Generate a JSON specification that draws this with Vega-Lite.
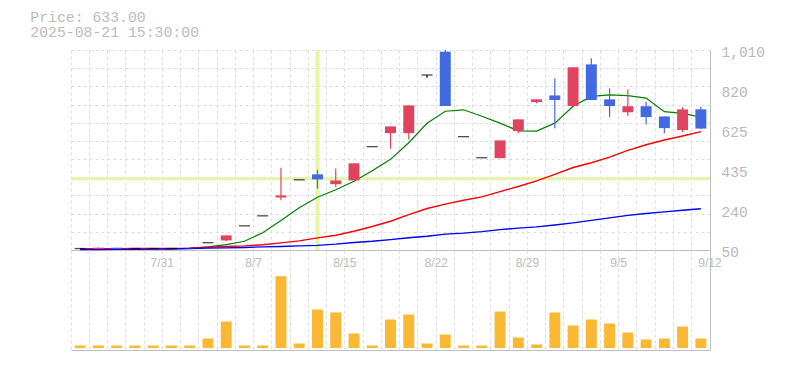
{
  "$schema": "https://vega.github.io/schema/vega-lite/v6.json",
  "background": "white",
  "padding": {"left": 30, "top": 10, "right": 5, "bottom": 5},
  "bounds": "flush",
  "spacing": 0,
  "config": {"view": {"stroke": null}},
  "title": {
    "text": ["Price: 633.00", "2025-08-21 15:30:00"],
    "anchor": "start",
    "frame": "group",
    "dx": -40.7,
    "offset": 4.5,
    "font": "Liberation Mono",
    "fontSize": 14.8,
    "fontWeight": "normal",
    "color": "#bbbbbb",
    "lineHeight": 15
  },
  "datasets": {
    "k": [
      {"d": "7/25", "o": 57, "h": 59, "l": 57, "c": 57, "ma5": 57, "ma25": 56, "ma75": 52, "v": 25000},
      {"d": "7/28", "o": 56, "h": 62, "l": 56, "c": 61, "ma5": 57, "ma25": 56, "ma75": 52, "v": 25000},
      {"d": "7/29", "o": 61, "h": 61, "l": 55, "c": 56, "ma5": 57, "ma25": 56.5, "ma75": 53, "v": 25000},
      {"d": "7/30", "o": 57, "h": 57, "l": 57, "c": 57, "ma5": 57, "ma25": 57, "ma75": 53, "v": 25000},
      {"d": "7/31", "o": 57, "h": 57, "l": 57, "c": 57, "ma5": 57, "ma25": 57.5, "ma75": 54, "v": 25000},
      {"d": "8/1", "o": 57, "h": 57, "l": 57, "c": 57, "ma5": 57, "ma25": 58, "ma75": 55, "v": 25000},
      {"d": "8/4", "o": 57, "h": 58, "l": 57, "c": 58, "ma5": 58, "ma25": 59, "ma75": 57, "v": 25000},
      {"d": "8/5", "o": 85, "h": 85, "l": 85, "c": 85, "ma5": 65, "ma25": 63, "ma75": 59, "v": 95000},
      {"d": "8/6", "o": 96, "h": 120, "l": 92, "c": 120, "ma5": 76, "ma25": 67, "ma75": 60, "v": 265000},
      {"d": "8/7", "o": 166, "h": 166, "l": 166, "c": 166, "ma5": 92, "ma25": 70, "ma75": 62, "v": 25000},
      {"d": "8/8", "o": 214, "h": 214, "l": 214, "c": 214, "ma5": 133, "ma25": 75, "ma75": 65, "v": 25000},
      {"d": "8/12", "o": 302, "h": 445, "l": 289, "c": 312, "ma5": 192, "ma25": 84, "ma75": 67, "v": 718000},
      {"d": "8/13", "o": 387, "h": 387, "l": 387, "c": 387, "ma5": 253, "ma25": 94, "ma75": 70, "v": 45000},
      {"d": "8/14", "o": 413, "h": 435, "l": 345, "c": 389, "ma5": 303, "ma25": 108, "ma75": 72, "v": 385000},
      {"d": "8/15", "o": 366, "h": 441, "l": 352, "c": 384, "ma5": 339, "ma25": 121, "ma75": 78, "v": 355000},
      {"d": "8/18", "o": 384, "h": 466, "l": 384, "c": 466, "ma5": 380, "ma25": 140, "ma75": 86, "v": 145000},
      {"d": "8/19", "o": 546, "h": 546, "l": 546, "c": 546, "ma5": 430, "ma25": 163, "ma75": 92, "v": 25000},
      {"d": "8/20", "o": 611, "h": 643, "l": 536, "c": 643, "ma5": 485, "ma25": 188, "ma75": 100, "v": 285000},
      {"d": "8/21", "o": 611, "h": 744, "l": 581, "c": 744, "ma5": 565, "ma25": 220, "ma75": 109, "v": 335000},
      {"d": "8/22", "o": 890, "h": 890, "l": 877, "c": 890, "ma5": 658, "ma25": 249, "ma75": 116, "v": 45000},
      {"d": "8/25", "o": 1002, "h": 1010, "l": 741, "c": 741, "ma5": 716, "ma25": 270, "ma75": 126, "v": 135000},
      {"d": "8/26", "o": 594, "h": 594, "l": 594, "c": 594, "ma5": 723, "ma25": 289, "ma75": 131, "v": 25000},
      {"d": "8/27", "o": 493, "h": 493, "l": 493, "c": 493, "ma5": 692, "ma25": 305, "ma75": 138, "v": 25000},
      {"d": "8/28", "o": 491, "h": 576, "l": 491, "c": 576, "ma5": 659, "ma25": 330, "ma75": 148, "v": 365000},
      {"d": "8/29", "o": 621, "h": 677, "l": 611, "c": 677, "ma5": 622, "ma25": 355, "ma75": 155, "v": 105000},
      {"d": "9/1", "o": 760, "h": 773, "l": 754, "c": 773, "ma5": 621, "ma25": 382, "ma75": 161, "v": 35000},
      {"d": "9/2", "o": 792, "h": 874, "l": 635, "c": 770, "ma5": 659, "ma25": 413, "ma75": 170, "v": 355000},
      {"d": "9/3", "o": 741, "h": 927, "l": 741, "c": 927, "ma5": 740, "ma25": 446, "ma75": 180, "v": 225000},
      {"d": "9/4", "o": 941, "h": 970, "l": 770, "c": 770, "ma5": 787, "ma25": 469, "ma75": 192, "v": 285000},
      {"d": "9/5", "o": 773, "h": 826, "l": 688, "c": 741, "ma5": 795, "ma25": 496, "ma75": 204, "v": 245000},
      {"d": "9/8", "o": 711, "h": 821, "l": 693, "c": 740, "ma5": 791, "ma25": 528, "ma75": 216, "v": 155000},
      {"d": "9/9", "o": 740, "h": 762, "l": 653, "c": 688, "ma5": 779, "ma25": 555, "ma75": 225, "v": 85000},
      {"d": "9/10", "o": 691, "h": 691, "l": 610, "c": 635, "ma5": 714, "ma25": 578, "ma75": 233, "v": 95000},
      {"d": "9/11", "o": 626, "h": 735, "l": 616, "c": 725, "ma5": 706, "ma25": 597, "ma75": 241, "v": 215000},
      {"d": "9/12", "o": 725, "h": 738, "l": 630, "c": 633, "ma5": 688, "ma25": 618, "ma75": 248, "v": 95000}
    ],
    "cursor": [{"price": 392}]
  },
  "vconcat": [
    {
      "width": 639,
      "height": 200,
      "resolve": {"axis": {"y": "independent"}},
      "layer": [
        {
          "data": {"name": "cursor"},
          "mark": {"type": "rule", "color": "#e4f5a6", "strokeWidth": 3},
          "encoding": {
            "y": {"field": "price", "type": "quantitative", "axis": null,
                  "scale": {"domain": [50, 1010], "zero": false, "nice": false}}
          }
        },
        {
          "data": {"name": "k"},
          "transform": [{"filter": "datum.d == '8/14'"}],
          "mark": {"type": "rule", "color": "#e4f5a6", "strokeWidth": 4},
          "encoding": {
            "x": {
              "field": "d", "type": "ordinal", "title": null,
              "scale": {
                "domain": ["7/25","7/28","7/29","7/30","7/31","8/1","8/4","8/5","8/6","8/7","8/8","8/12","8/13","8/14","8/15","8/18","8/19","8/20","8/21","8/22","8/25","8/26","8/27","8/28","8/29","9/1","9/2","9/3","9/4","9/5","9/8","9/9","9/10","9/11","9/12"],
                "paddingInner": 0, "paddingOuter": 0
              },
              "axis": {
                "bandPosition": 0,
                "grid": true, "gridColor": "#dcdcdc", "gridDash": [3, 3], "gridWidth": 1,
                "ticks": false,
                "domain": true, "domainColor": "#c0c0c0", "domainWidth": 1,
                "labelExpr": "indexof(['7/31','8/7','8/15','8/22','8/29','9/5','9/12'], datum.label) >= 0 ? datum.label : ''",
                "labelOffset": 9.12,
                "labelAngle": 0,
                "labelOverlap": false,
                "labelPadding": 7,
                "labelFont": "Liberation Sans",
                "labelFontSize": 12,
                "labelColor": "#bbbbbb"
              }
            }
          }
        },
        {
          "data": {"name": "k"},
          "mark": {"type": "line", "color": "#008000", "strokeWidth": 1.2},
          "encoding": {
            "x": {"field": "d", "type": "ordinal"},
            "y": {
              "field": "ma5", "type": "quantitative", "title": null,
              "axis": {
                "orient": "left",
                "values": [50, 137.2727, 224.5455, 311.8182, 399.0909, 486.3636, 573.6364, 660.9091, 748.1818, 835.4545, 922.7273, 1010],
                "grid": true, "gridColor": "#dcdcdc", "gridDash": [3, 3], "gridWidth": 1,
                "labels": false, "ticks": false, "domain": false
              }
            }
          }
        },
        {
          "data": {"name": "k"},
          "mark": {"type": "line", "color": "#ff0000", "strokeWidth": 1.4},
          "encoding": {
            "x": {"field": "d", "type": "ordinal"},
            "y": {"field": "ma25", "type": "quantitative", "axis": null}
          }
        },
        {
          "data": {"name": "k"},
          "mark": {"type": "line", "color": "#0000ff", "strokeWidth": 1.4},
          "encoding": {
            "x": {"field": "d", "type": "ordinal"},
            "y": {"field": "ma75", "type": "quantitative", "axis": null}
          }
        },
        {
          "data": {"name": "k"},
          "mark": {"type": "rule", "strokeWidth": 1.2},
          "encoding": {
            "x": {"field": "d", "type": "ordinal"},
            "y": {
              "field": "l", "type": "quantitative", "title": null,
              "axis": {
                "orient": "right",
                "values": [50, 242, 434, 626, 818, 1010],
                "labelExpr": "format(round(datum.value / 5) * 5, ',')",
                "grid": false, "ticks": false,
                "domain": true, "domainColor": "#c0c0c0", "domainWidth": 1,
                "labelPadding": 11,
                "labelOffset": 2.5,
                "labelFont": "Liberation Mono",
                "labelFontSize": 14.5,
                "labelColor": "#b8b8b8"
              }
            },
            "y2": {"field": "h"},
            "color": {
              "condition": [
                {"test": "datum.c > datum.o", "value": "#e0435e"},
                {"test": "datum.c < datum.o", "value": "#4169e1"}
              ],
              "value": "#000000"
            }
          }
        },
        {
          "data": {"name": "k"},
          "mark": {"type": "bar", "width": {"band": 0.6}},
          "encoding": {
            "x": {"field": "d", "type": "ordinal"},
            "y": {"field": "o", "type": "quantitative", "axis": null},
            "y2": {"field": "c"},
            "color": {
              "condition": [
                {"test": "datum.c > datum.o", "value": "#e0435e"},
                {"test": "datum.c < datum.o", "value": "#4169e1"}
              ],
              "value": "#000000"
            }
          }
        },
        {
          "data": {"name": "k"},
          "transform": [{"filter": "datum.o == datum.c"}],
          "mark": {"type": "tick", "color": "#000000", "size": 11, "thickness": 1.3},
          "encoding": {
            "x": {"field": "d", "type": "ordinal"},
            "y": {"field": "o", "type": "quantitative", "axis": null}
          }
        }
      ]
    },
    {
      "width": 639,
      "height": 100,
      "data": {"name": "k"},
      "mark": {"type": "bar", "width": {"band": 0.6}, "color": "#fbb834"},
      "encoding": {
        "x": {
          "field": "d", "type": "ordinal", "title": null,
          "scale": {
            "domain": ["7/25","7/28","7/29","7/30","7/31","8/1","8/4","8/5","8/6","8/7","8/8","8/12","8/13","8/14","8/15","8/18","8/19","8/20","8/21","8/22","8/25","8/26","8/27","8/28","8/29","9/1","9/2","9/3","9/4","9/5","9/8","9/9","9/10","9/11","9/12"],
            "paddingInner": 0, "paddingOuter": 0
          },
          "axis": {
            "bandPosition": 0,
            "grid": true, "gridColor": "#dcdcdc", "gridDash": [3, 3], "gridWidth": 1,
            "ticks": false, "labels": false,
            "domain": true, "domainColor": "#c0c0c0", "domainWidth": 1
          }
        },
        "y": {
          "field": "v", "type": "quantitative", "title": null,
          "scale": {"domain": [-20000, 980000], "zero": false, "nice": false},
          "axis": {
            "orient": "right",
            "grid": false, "ticks": false, "labels": false,
            "domain": true, "domainColor": "#c0c0c0", "domainWidth": 1
          }
        }
      }
    }
  ]
}
